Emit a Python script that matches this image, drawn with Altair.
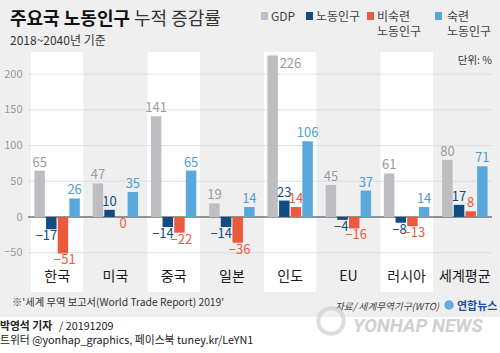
import altair as alt
import pandas as pd

# ---------------- data ----------------
categories = ["한국", "미국", "중국", "일본", "인도", "EU", "러시아", "세계평균"]
series = ["GDP", "노동인구", "비숙련 노동인구", "숙련 노동인구"]
gdp = [65, 47, 141, 19, 226, 45, 61, 80]
labor = [-17, 10, -14, -14, 23, -4, -8, 17]
unskilled = [-51, 0, -22, -36, 14, -16, -13, 8]
skilled = [26, 35, 65, 14, 106, 37, 14, 71]
highlight = ["한국", "중국", "인도", "러시아"]
grid_values = [-50, 50, 100, 150, 200]
tick_values = [-50, 0, 50, 100, 150, 200]

bar_colors = ["#bdbec1", "#104b83", "#eb5a3c", "#5aa8db"]
label_colors = ["#9a9b9e", "#104b83", "#eb5a3c", "#4a9fd6"]

rows = []
for i, c in enumerate(categories):
    for s, vals in zip(series, [gdp, labor, unskilled, skilled]):
        rows.append({"category": c, "series": s, "value": vals[i]})
df = pd.DataFrame(rows)

# ---------------- layout ----------------
PL, PT, PR, PB = 28, 52, 6, 61
W, H = 500 - PL - PR, 353 - PT - PB
FONT = "Noto Sans CJK KR"

x_enc = alt.X("category:N", sort=categories,
              scale=alt.Scale(paddingInner=0.1, paddingOuter=0.05), axis=None)
y_scale = alt.Scale(domain=[-105, 231], nice=False, zero=False)
xo_enc = alt.XOffset("series:N", sort=series,
                     scale=alt.Scale(paddingInner=0.1, paddingOuter=0.3))


def txt(t, x, y, size, color="#222222", weight="normal", align="left",
        style="normal", font=FONT):
    return alt.Chart(pd.DataFrame({"t": [t]})).mark_text(
        font=font, fontSize=size, color=color, fontWeight=weight, align=align,
        baseline="alphabetic", fontStyle=style
    ).encode(text="t:N", x=alt.value(x - PL), y=alt.value(y - PT))


def box(x1, x2, y1, y2, color):
    return alt.Chart(pd.DataFrame({"a": [0]})).mark_rect(color=color).encode(
        x=alt.value(x1 - PL), x2=alt.value(x2 - PL),
        y=alt.value(y1 - PT), y2=alt.value(y2 - PT))


# white bands behind alternate countries
bands = alt.Chart(pd.DataFrame({"category": highlight})).mark_rect(color="white").encode(
    x=x_enc, y=alt.value(0), y2=alt.value(H))

# grid + y axis
grid = alt.Chart(pd.DataFrame({"v": grid_values})).mark_rule(
    color="#d9d9db", strokeWidth=0.8).encode(
    y=alt.Y("v:Q", scale=y_scale, title=None,
            axis=alt.Axis(values=tick_values, domain=False, ticks=False, grid=False,
                          labelColor="#9a9a9a", labelFont=FONT, labelFontSize=11,
                          labelPadding=6,
                          labelExpr="datum.value < 0 ? '−' + abs(datum.value) : datum.label")),
    x=alt.value(0), x2=alt.value(W - 2))

zero = alt.Chart(pd.DataFrame({"v": [0]})).mark_rule(color="#333333", strokeWidth=1.1).encode(
    y=alt.Y("v:Q", scale=y_scale), x=alt.value(0), x2=alt.value(W - 2))

bars = alt.Chart(df).mark_bar().encode(
    x=x_enc, xOffset=xo_enc,
    y=alt.Y("value:Q", scale=y_scale),
    y2=alt.datum(0),
    color=alt.Color("series:N", sort=series,
                    scale=alt.Scale(domain=series, range=bar_colors), legend=None))

lab_color = alt.Color("series:N", sort=series,
                      scale=alt.Scale(domain=series, range=label_colors), legend=None)
lab_base = alt.Chart(df).transform_calculate(
    label="datum.value < 0 ? '−' + abs(datum.value) : '' + datum.value")


def value_labels(flt, **mk):
    return lab_base.transform_filter(flt).mark_text(font=FONT, fontSize=13, **mk).encode(
        x=x_enc, xOffset=xo_enc, y=alt.Y("value:Q", scale=y_scale),
        text="label:N", color=lab_color)


pos_labels = value_labels("datum.value > 0 && datum.value <= 200", baseline="bottom", dy=-1)
top_labels = value_labels("datum.value > 200", baseline="top", align="left", dx=7, dy=2)
neg_navy = value_labels("datum.value <= 0 && datum.series == '노동인구'",
                        baseline="top", align="right", dx=6, dy=1)
neg_other = value_labels("datum.value <= 0 && datum.series != '노동인구'",
                         baseline="top", dx=2, dy=1)

cat_labels = alt.Chart(pd.DataFrame({"category": categories})).mark_text(
    font=FONT, fontSize=14, color="#1a1a1a", baseline="middle").encode(
    x=x_enc, y=alt.value(H - 15), text="category:N")

unit = txt("단위: %", 492, 64, 10.5, color="#333333", align="right")

# header
title1 = txt("주요국 노동인구", 10, 25, 18, color="#111111", weight="bold")
title2 = txt("누적 증감률", 134, 25, 18, color="#333333")
subtitle = txt("2018~2040년 기준", 10, 45, 12, color="#333333")

legend_layers = [
    box(261, 268, 12, 20, bar_colors[0]), txt("GDP", 271, 21, 12, color="#444444"),
    box(306, 313, 12, 20, bar_colors[1]), txt("노동인구", 316, 21, 12, color="#444444"),
    box(367, 374, 12, 20, bar_colors[2]), txt("비숙련", 377, 21, 12, color="#444444"),
    txt("노동인구", 377, 36, 12, color="#444444"),
    box(435, 442, 12, 20, bar_colors[3]), txt("숙련", 447, 21, 12, color="#444444"),
    txt("노동인구", 447, 36, 12, color="#444444"),
]

# footer
footer_bg = box(0, 500, 317, 353, "white")
note = txt("※'세계 무역 보고서(World Trade Report) 2019'", 12, 306, 10.3, color="#333333")
source = txt("자료/ 세계무역기구(WTO)", 335, 310, 9.6, color="#444444", style="italic")
logo_dot = alt.Chart(pd.DataFrame({"a": [0]})).mark_point(
    shape="circle", filled=True, color="#2a8fd8", size=90).encode(
    x=alt.value(449 - PL), y=alt.value(305 - PT))
logo = txt("연합뉴스", 457, 310, 11, color="#1d4f9c", weight="bold")
wm_circle = alt.Chart(pd.DataFrame({"a": [0]})).mark_point(
    shape="circle", filled=False, color="#d0d0d0", size=650, strokeWidth=4).encode(
    x=alt.value(331 - PL), y=alt.value(321 - PT))
watermark = txt("YONHAP NEWS", 353, 332, 19, color="#d0d0d0", weight="bold",
                style="italic", font="Roboto")
byline1 = txt("박영석 기자", 0, 330, 10.8, color="#222222", weight="bold")
byline2 = txt("/ 20191209", 59, 330, 10.8, color="#222222")
byline3 = txt("트위터 @yonhap_graphics, 페이스북 tuney.kr/LeYN1", 0, 344, 10.8, color="#222222")

chart = alt.layer(
    footer_bg, bands, grid, zero, bars, pos_labels, top_labels, neg_navy, neg_other,
    cat_labels, unit, title1, title2, subtitle, *legend_layers,
    note, source, logo_dot, logo, wm_circle, watermark, byline1, byline2, byline3
).resolve_scale(color="independent").properties(
    width=W, height=H,
    autosize=alt.AutoSizeParams(type="none"),
    padding={"left": PL, "top": PT, "right": PR, "bottom": PB},
    background="#efeff0",
).configure_view(stroke=None)

chart.save("out.html", embed_options={"renderer": "svg", "actions": False})
